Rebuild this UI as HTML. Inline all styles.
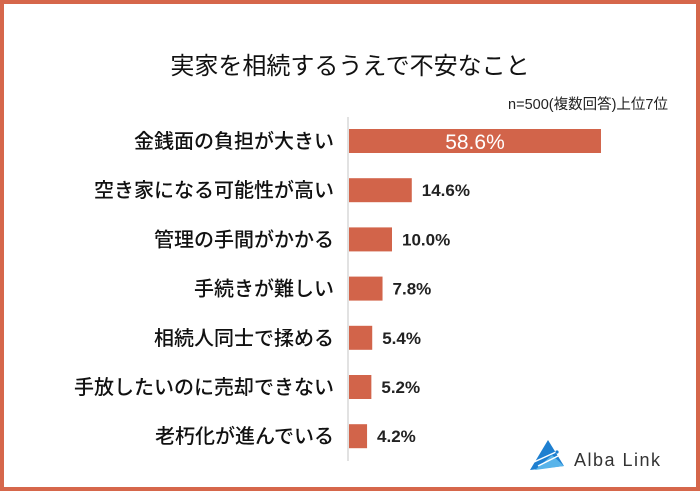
<!DOCTYPE html>
<html><head><meta charset="utf-8"><style>
body{margin:0;background:#fff;}
#wrap{position:relative;width:700px;height:491px;overflow:hidden;font-family:"Liberation Sans","Noto Sans CJK JP",sans-serif;}
#frame{position:absolute;left:0;top:0;width:692px;height:483px;border:4px solid #d6674b;}
</style></head><body>
<div id="wrap">
<div id="frame"></div>
<svg id="chart" width="700" height="491" style="position:absolute;left:0;top:0">
<text x="350" y="74" text-anchor="middle" font-size="24" fill="#111">実家を相続するうえで不安なこと</text>
<text x="668" y="109" text-anchor="end" font-size="14.5" fill="#222">n=500(複数回答)上位7位</text>
<line x1="348" y1="117" x2="348" y2="461" stroke="#d9d9d9" stroke-width="1.5"/>
<g id="bars"></g>
<g>
<polygon points="548,440 530,470 564,466" fill="#1e7fd0"/>
<polygon points="552,455 535,470 564,466" fill="#58b4ea"/>
<line x1="534" y1="462" x2="556" y2="452" stroke="#fff" stroke-width="1.5"/>
<line x1="538" y1="466" x2="558" y2="456" stroke="#fff" stroke-width="1.5"/>
<circle cx="557" cy="452" r="1.6" fill="#1e7fd0"/>
<text x="574" y="466" font-size="18" fill="#333" letter-spacing="1.5">Alba Link</text>
</g>
</svg>
</div>
<script>
const categories=["金銭面の負担が大きい","空き家になる可能性が高い","管理の手間がかかる","手続きが難しい","相続人同士で揉める","手放したいのに売却できない","老朽化が進んでいる"];
const values=[58.6,14.6,10.0,7.8,5.4,5.2,4.2];
const valueLabels=["58.6%","14.6%","10.0%","7.8%","5.4%","5.2%","4.2%"];
const x0=349,pxPer=4.3,yTop=141,step=49.2,bh=24;
const xs=v=>x0+v*pxPer, ys=i=>yTop+i*step;
const g=document.getElementById('bars');const NS="http://www.w3.org/2000/svg";
categories.forEach((c,i)=>{
 const y=ys(i);
 const t=document.createElementNS(NS,'text');
 
 
 t.setAttribute('x',334);t.setAttribute('y',y+7);t.setAttribute('text-anchor','end');t.setAttribute('font-size','20');t.setAttribute('font-weight','500');t.setAttribute('fill','#111');t.textContent=c;g.appendChild(t);
 const r=document.createElementNS(NS,'rect');
 
 
 r.setAttribute('x',x0);r.setAttribute('y',y-bh/2);r.setAttribute('width',xs(values[i])-x0);r.setAttribute('height',bh);r.setAttribute('fill','#d2644a');g.appendChild(r);
 const v=document.createElementNS(NS,'text');
 
 
 const inside=i===0;
 v.setAttribute('x',inside?(x0+xs(values[i]))/2:xs(values[i])+10);v.setAttribute('y',y+(inside?8:6));
 v.setAttribute('text-anchor',inside?'middle':'start');v.setAttribute('font-size',inside?'21':'17');v.setAttribute('font-weight',inside?'normal':'bold');
 v.setAttribute('fill',inside?'#fff':'#222');v.textContent=valueLabels[i];g.appendChild(v);
});
</script>
</body></html>
